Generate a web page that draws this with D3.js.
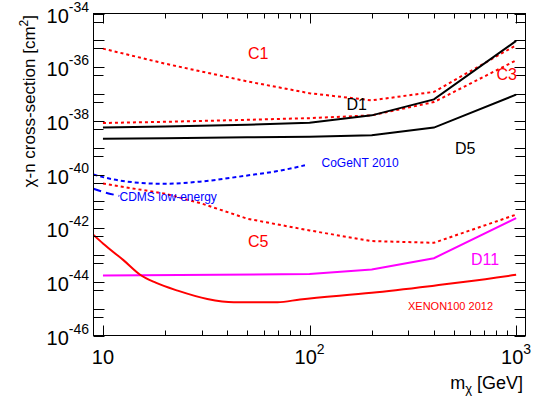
<!DOCTYPE html>
<html>
<head>
<meta charset="utf-8">
<script src="https://cdn.jsdelivr.net/npm/d3@7"></script>
<style>
  body { margin: 0; background: #fff; }
  svg { display: block; }
  text { font-family: "Liberation Sans", Arial, Helvetica, sans-serif; }
</style>
</head>
<body>
<svg id="chart" width="536" height="401"></svg>
<script>
// WIMP-nucleon cross-section limits versus WIMP mass (cm^2 vs GeV)
const massEFT   = [10, 20, 50, 100, 200, 400, 1000];
const sigmaC1   = [4.9e-36, 1.35e-36, 2.95e-37, 1.07e-37, 5.8e-38, 1.2e-37, 6.6e-36];
const sigmaD1   = [5.6e-39, 6.1e-39, 7.1e-39, 8.4e-39, 1.6e-38, 6.3e-38, 9.5e-36];
const sigmaC3   = [8.3e-39, 9.2e-39, 1.09e-38, 1.26e-38, 1.6e-38, 5.0e-38, 1.8e-36];
const sigmaD5   = [2.17e-39, 2.26e-39, 2.42e-39, 2.53e-39, 2.88e-39, 5.6e-39, 9.5e-38];

const massC5    = [10, 20, 30, 50, 100, 200, 400, 1000];
const sigmaC5   = [4.6e-41, 1.92e-41, 8.3e-42, 2.25e-42, 8.2e-43, 3.3e-43, 2.85e-43, 3.2e-42];

const massD11   = [10, 100, 200, 400, 1000];
const sigmaD11  = [1.72e-44, 1.95e-44, 2.9e-44, 7.6e-44, 2.36e-42];

const massCoGeNT  = [9, 10, 15, 20, 30, 50, 70, 95];
const sigmaCoGeNT = [1.0e-40, 8.0e-41, 4.9e-41, 4.5e-41, 5.5e-41, 9.2e-41, 1.34e-40, 2.2e-40];

const massCDMS  = [9, 10, 12];
const sigmaCDMS = [2.95e-41, 2.25e-41, 1.6e-41];

const massXenon  = [9, 10, 12.6, 15.2, 18, 23, 32, 43, 70, 90, 200, 400, 580, 1000];
const sigmaXenon = [5.6e-43, 2.7e-43, 6.3e-44, 1.8e-44, 9.3e-45, 4.7e-45, 2.3e-45, 1.74e-45,
                    1.74e-45, 2.2e-45, 3.9e-45, 7.2e-45, 1.02e-44, 1.82e-44];

const xMajorTicks = [10, 100, 1000];
const xMinorTicks = [20, 30, 40, 50, 60, 70, 80, 90, 200, 300, 400, 500, 600, 700, 800, 900];
const yLabelExps  = [-34, -36, -38, -40, -42, -44, -46];
const yDecadeExps = d3.range(-46, -33);
const yHalfExps   = d3.range(-46, -34);   // ticks at 5 x 10^n

const svg = d3.select("#chart");
const L = 93.5, R = 525.5, T = 13.5, B = 335.5;

const x = d3.scaleLog().domain([9, 1110]).range([L, R]);
const y = d3.scaleLog().domain([1e-46, 1e-34]).range([B, T]);

svg.append("defs").append("clipPath").attr("id", "plotArea")
  .append("rect").attr("x", L).attr("y", T).attr("width", R - L).attr("height", B - T);

// curves
const line = d3.line().x(d => x(d[0])).y(d => y(d[1]));
const smooth = d3.line().x(d => x(d[0])).y(d => y(d[1])).curve(d3.curveMonotoneX);
const zip = (a, b) => a.map((v, i) => [v, b[i]]);

const series = [
  { m: massEFT, s: sigmaC1, color: "#ff0000", dash: "3,3", gen: line },
  { m: massEFT, s: sigmaC3, color: "#ff0000", dash: "3,3", gen: line },
  { m: massEFT, s: sigmaD1, color: "#000000", dash: null,  gen: line },
  { m: massEFT, s: sigmaD5, color: "#000000", dash: null,  gen: line },
  { m: massC5,  s: sigmaC5, color: "#ff0000", dash: "3,3", gen: line },
  { m: massD11, s: sigmaD11, color: "#ff00ff", dash: null, gen: line },
  { m: massCoGeNT, s: sigmaCoGeNT, color: "#0000ff", dash: "4,3", gen: smooth },
  { m: massCDMS, s: sigmaCDMS, color: "#0000ff", dash: "8,5", gen: smooth },
  { m: massXenon, s: sigmaXenon, color: "#ff0000", dash: null, gen: smooth }
];

const plot = svg.append("g").attr("clip-path", "url(#plotArea)");
plot.selectAll("path").data(series).join("path")
  .attr("d", d => d.gen(zip(d.m, d.s)))
  .attr("fill", "none")
  .attr("stroke", d => d.color)
  .attr("stroke-width", 2)
  .attr("stroke-dasharray", d => d.dash);

// frame
svg.append("rect").attr("x", L).attr("y", T).attr("width", R - L).attr("height", B - T)
  .attr("fill", "none").attr("stroke", "#000").attr("stroke-width", 1);

// ticks (inward, on all four sides)
const ticks = svg.append("g").attr("stroke", "#000").attr("stroke-width", 1);
const xt = [...xMajorTicks.map(v => ({ v, len: 10 })), ...xMinorTicks.map(v => ({ v, len: 5 }))];
xt.forEach(t => {
  const px = Math.round(x(t.v)) + 0.5;
  ticks.append("line").attr("x1", px).attr("x2", px).attr("y1", B).attr("y2", B - t.len);
  ticks.append("line").attr("x1", px).attr("x2", px).attr("y1", T).attr("y2", T + t.len);
});
const yt = [...yDecadeExps.map(e => ({ v: Math.pow(10, e), len: 11 })),
            ...yHalfExps.map(e => ({ v: 5 * Math.pow(10, e), len: 10 }))];
yt.forEach(t => {
  const py = Math.round(y(t.v)) + 0.5;
  ticks.append("line").attr("x1", L).attr("x2", L + t.len).attr("y1", py).attr("y2", py);
  ticks.append("line").attr("x1", R).attr("x2", R - t.len).attr("y1", py).attr("y2", py);
});

// y tick labels
yLabelExps.forEach(e => {
  const t = svg.append("text")
    .attr("x", 89).attr("y", y(Math.pow(10, e)) + 9)
    .attr("text-anchor", "end").attr("font-size", 20).attr("fill", "#000");
  t.append("tspan").text("10");
  t.append("tspan").attr("font-size", 14).attr("dy", -11).text(String(e).replace("-", "-"));
});

// x tick labels
const xLabel = [{ v: 10, sup: null }, { v: 100, sup: "2" }, { v: 1000, sup: "3" }];
xLabel.forEach(d => {
  const t = svg.append("text")
    .attr("x", x(d.v)).attr("y", 364)
    .attr("text-anchor", "middle").attr("font-size", 20).attr("fill", "#000");
  t.append("tspan").text("10");
  if (d.sup) t.append("tspan").attr("font-size", 14).attr("dy", -10).text(d.sup);
});

// axis titles
const xt2 = svg.append("text").attr("x", 523).attr("y", 389)
  .attr("text-anchor", "end").attr("font-size", 18).attr("fill", "#000");
xt2.append("tspan").text("m");
xt2.append("tspan").attr("font-size", 13).attr("dy", 4).text("χ");
xt2.append("tspan").attr("dy", -4).text(" [GeV]");

const yt2 = svg.append("text")
  .attr("transform", "translate(35,15) rotate(-90)")
  .attr("text-anchor", "end").attr("font-size", 17).attr("fill", "#000");
yt2.append("tspan").text("χ-n cross-section [cm");
yt2.append("tspan").attr("font-size", 12).attr("dy", -7).text("2");
yt2.append("tspan").attr("dy", 7).text("]");

// curve labels
const labels = [
  { t: "C1", x: 248, y: 58.5, c: "#ff0000", s: 16 },
  { t: "D1", x: 346.5, y: 110, c: "#000000", s: 16 },
  { t: "C3", x: 496.5, y: 80, c: "#ff0000", s: 16 },
  { t: "D5", x: 455, y: 153.5, c: "#000000", s: 16 },
  { t: "CoGeNT 2010", x: 321.5, y: 166.5, c: "#0000ff", s: 12 },
  { t: "CDMS low-energy", x: 119.5, y: 200.5, c: "#0000ff", s: 12 },
  { t: "C5", x: 248, y: 246.5, c: "#ff0000", s: 16 },
  { t: "D11", x: 471, y: 265, c: "#ff00ff", s: 16 },
  { t: "XENON100 2012", x: 408, y: 310, c: "#ff0000", s: 11 }
];
svg.append("g").selectAll("text").data(labels).join("text")
  .attr("x", d => d.x).attr("y", d => d.y)
  .attr("font-size", d => d.s).attr("fill", d => d.c)
  .text(d => d.t);
</script>
</body>
</html>
